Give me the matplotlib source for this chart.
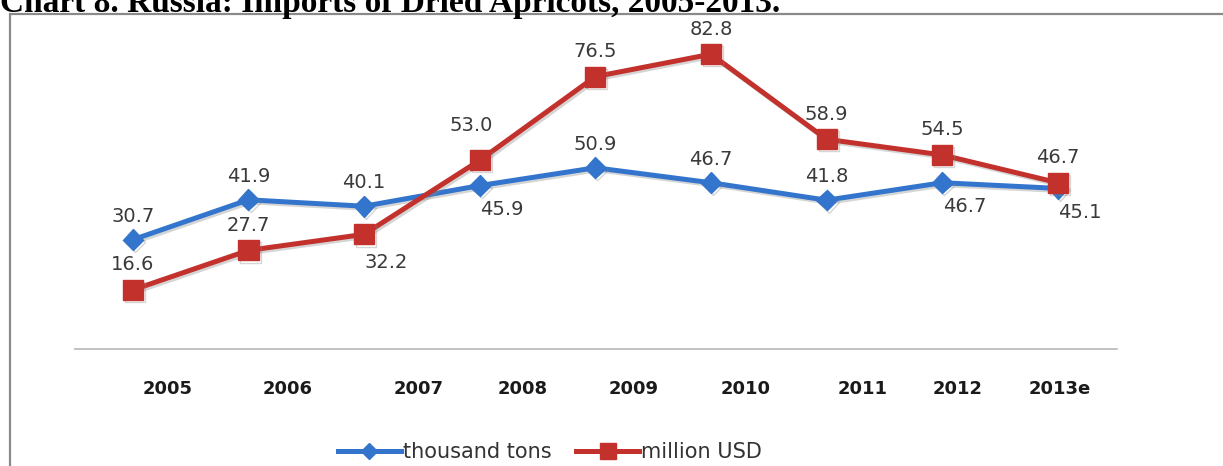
import matplotlib
matplotlib.use("Agg")
import matplotlib.pyplot as plt
import matplotlib.patheffects as pe
from matplotlib.patches import Rectangle
import numpy as np

years = ["2005", "2006", "2007", "2008", "2009", "2010", "2011", "2012", "2013e"]
thousand_tons = [30.7, 41.9, 40.1, 45.9, 50.9, 46.7, 41.8, 46.7, 45.1]
million_usd = [16.6, 27.7, 32.2, 53.0, 76.5, 82.8, 58.9, 54.5, 46.7]
title = "Chart 8. Russia: Imports of Dried Apricots, 2005-2013."

# layout details (label placement / tick label shifts as in the original)
tons_label_side = ["up", "up", "up", "down", "up", "up", "up", "down", "down"]
usd_label_side = ["up", "up", "down", "up", "up", "up", "up", "up", "up"]
tick_shift = [0.30, 0.34, 0.47, 0.37, 0.33, 0.30, 0.31, 0.13, 0.02]

W, H = 1223, 466
fig = plt.figure(figsize=(W / 100, H / 100), dpi=100)
fig.patch.set_facecolor("white")

# outer frame
fig.patches.append(Rectangle((10 / W, -0.2), 1.2, (H - 14) / H + 0.2,
                             transform=fig.transFigure, fill=False,
                             edgecolor="#8a8a8a", lw=1.6))
fig.text(0.0, (H - 12) / H, title, family="Liberation Serif", weight="bold",
         fontsize=24, va="baseline", ha="left", color="black")

ax = fig.add_axes([75 / W, (H - 349) / H, (1118 - 75) / W, (349 - 20) / H])
ax.set_facecolor("none")
x = np.arange(len(years))

blue = "#3375cc"
red = "#c3312d"
shadow = [pe.SimpleLineShadow(offset=(1.5, -1.5), shadow_color="#888888", alpha=0.35),
          pe.Normal()]
ax.plot(x, thousand_tons, color=blue, lw=3.6, marker="D", markersize=10.5,
        markeredgecolor=blue, label="thousand tons", path_effects=shadow, zorder=3)
ax.plot(x, million_usd, color=red, lw=3.6, marker="s", markersize=14.5,
        markeredgecolor=red, label="million USD", path_effects=shadow, zorder=4)

lab_kw = dict(fontsize=14, color="#3a3a3a", ha="center", va="center",
              family="DejaVu Sans")
for xi, v, side in zip(x, thousand_tons, tons_label_side):
    off = (0, 17) if side == "up" else (16, -17)
    ax.annotate(f"{v:.1f}", (xi, v), xytext=off, textcoords="offset points", **lab_kw)
for xi, v, side in zip(x, million_usd, usd_label_side):
    off = (0, 18) if side == "up" else (16, -20)
    if v == 53.0:
        off = (-6, 25)
    ax.annotate(f"{v:.1f}", (xi, v), xytext=off, textcoords="offset points", **lab_kw)

ax.set_xlim(-0.50, 8.52)
ax.set_ylim(0, 92.4)
ax.set_yticks([])
ax.set_xticks(x + np.array(tick_shift))
ax.set_xticklabels(years, fontsize=13, weight="bold", color="#1a1a1a")
ax.tick_params(axis="x", length=0, pad=22)
for s in ["top", "right", "left"]:
    ax.spines[s].set_visible(False)
ax.spines["bottom"].set_color("#bdbdbd")
ax.spines["bottom"].set_linestyle((0, (1, 1)))
ax.spines["bottom"].set_linewidth(1.3)

leg = fig.legend(loc="center", bbox_to_anchor=(550 / W, (H - 452) / H), ncol=2,
                 frameon=False, fontsize=15, handlelength=3.0, numpoints=1,
                 columnspacing=1.2, handletextpad=0.1, markerscale=0.8)
for t in leg.get_texts():
    t.set_color("#333333")
for h in leg.legend_handles:
    h.set_path_effects([])

fig.savefig("out.png", dpi=100, facecolor="white")
